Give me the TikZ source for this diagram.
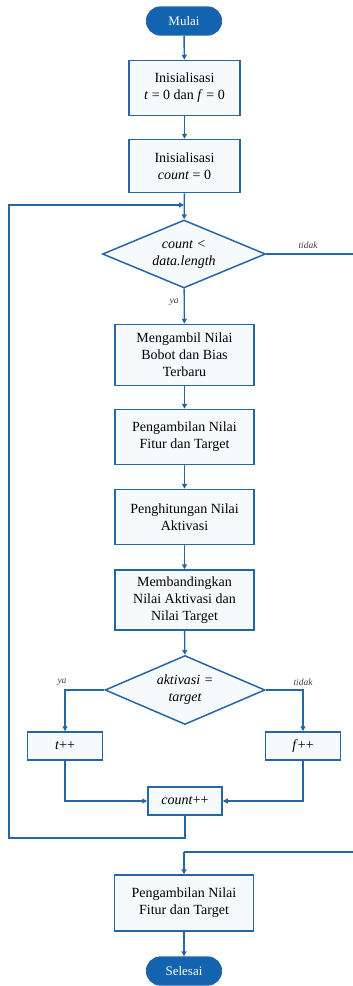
\documentclass[tikz,border=0pt]{standalone}
\usepackage{fontspec}
\setmainfont{Liberation Serif}
\usetikzlibrary{arrows.meta,shapes.geometric,shapes.misc,positioning,calc}
\definecolor{flowline}{RGB}{38,102,164}
\definecolor{termfill}{RGB}{18,100,176}
\definecolor{boxfill}{RGB}{247,250,253}

\begin{document}
\begin{tikzpicture}[x=1pt,y=-1pt,
  term/.style={rounded rectangle,draw=flowline,fill=termfill,line width=1.3pt,
    minimum width=75pt,minimum height=28pt,inner sep=0pt,text=white,
    font=\rmfamily\fontsize{13}{15}\selectfont},
  proc/.style={rectangle,draw=flowline,fill=boxfill,line width=1.5pt,
    minimum width=139pt,inner sep=2pt,align=center,
    font=\rmfamily\fontsize{14}{17}\selectfont},
  small/.style={proc,minimum width=75pt,minimum height=28pt},
  decide/.style={diamond,aspect=2.5,draw=flowline,fill=boxfill,line width=1.5pt,
    minimum width=163pt,minimum height=68pt,inner sep=0pt,align=center,
    font=\rmfamily\fontsize{14}{17}\selectfont\itshape},
  lbl/.style={font=\rmfamily\fontsize{9.5}{11}\selectfont\itshape,text=black!75,inner sep=1pt},
  flow/.style={draw=flowline,line width=1.4pt,-{Triangle[length=5pt,width=5pt]}},
  plain/.style={draw=flowline,line width=1.4pt}]
\useasboundingbox (0,0) rectangle (353,986);
% main column
\node[term] (mulai) at (184,21) {Mulai};
\node[proc,minimum width=111pt,minimum height=55pt] (init1) at (184.5,88)
  {Inisialisasi\\\textit{t} = 0 dan \textit{f} = 0};
\node[proc,minimum width=111pt,minimum height=53pt] (init2) at (184.5,166)
  {Inisialisasi\\\textit{count} = 0};
\node[decide] (cek) at (184,254) {count <\\data.length};
\node[proc,minimum height=61pt] (bobot) at (184.5,355) {Mengambil Nilai\\Bobot dan Bias\\Terbaru};
\node[proc,minimum height=55pt] (fitur) at (184.5,437) {Pengambilan Nilai\\Fitur dan Target};
\node[proc,minimum height=55pt] (aktiv) at (184.5,517) {Penghitungan Nilai\\Aktivasi};
\node[proc,minimum height=60pt] (banding) at (184.5,600) {Membandingkan\\Nilai Aktivasi dan\\Nilai Target};
\node[decide,minimum width=160pt,minimum height=69pt] (sama) at (185,690) {aktivasi =\\target};
\node[small] (tinc) at (65,746) {\textit{t}++};
\node[small] (finc) at (303,746) {\textit{f}++};
\node[small,minimum width=74pt] (cinc) at (185,801) {\textit{count}++};
\node[proc,minimum height=56pt] (akhir) at (184,903) {Pengambilan Nilai\\Fitur dan Target};
\node[term] (selesai) at (184,971) {Selesai};
% loop and exit points
\coordinate (masuk) at (184,205);
\coordinate (kiri1) at (9,838);
\coordinate (kiri2) at (9,205);
\coordinate (kanan1) at (356,254);
\coordinate (kanan2) at (356,852);
\coordinate (gabung) at (184,852);
% connectors
\draw[flow] (mulai) -- (init1);
\draw[flow] (init1) -- (init2);
\draw[flow] (init2) -- (cek);
\draw[flow] (cek) -- node[lbl,pos=0.4,left=4pt] {ya} (bobot);
\draw[flow] (bobot) -- (fitur);
\draw[flow] (fitur) -- (aktiv);
\draw[flow] (aktiv) -- (banding);
\draw[flow] (banding) -- (sama);
\draw[flow] (sama.west) -| (tinc.north);
\draw[flow] (sama.east) -| (finc.north);
\draw[flow] (tinc.south) |- (cinc.west);
\draw[flow] (finc.south) |- (cinc.east);
\draw[flow] (cinc.south) |- (kiri1) -- (kiri2) -- (masuk);
\draw[plain] (cek.east) -- (kanan1) -- (kanan2) -- (gabung);
\draw[flow] (gabung) -- (akhir);
\draw[flow] (akhir) -- (selesai);
% branch labels
\node[lbl] (tidak1) at (308,245) {tidak};
\node[lbl] (ya2) at (62,682) {ya};
\node[lbl] (tidak2) at (303,682) {tidak};
\end{tikzpicture}
\end{document}
